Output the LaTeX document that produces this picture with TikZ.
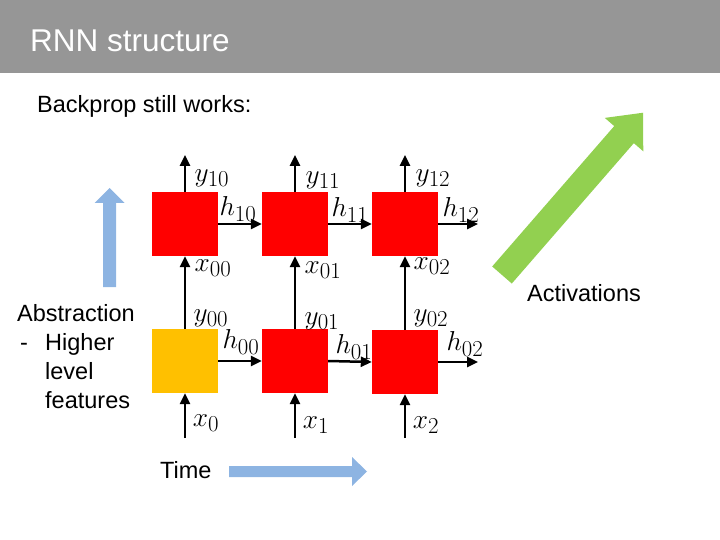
\documentclass[tikz,border=0pt]{standalone}
\usepackage{fontspec}
\setmainfont{Liberation Sans}
\usetikzlibrary{arrows.meta}

\definecolor{hdrgray}{RGB}{150,150,150}
\definecolor{cellred}{RGB}{255,0,0}
\definecolor{cellyellow}{RGB}{255,192,0}
\definecolor{arrowblue}{RGB}{141,180,226}
\definecolor{arrowgreen}{RGB}{146,208,80}

\begin{document}
\begin{tikzpicture}[x=1pt,y=-1pt,
    cell/.style={rectangle,fill=cellred,minimum width=66pt,minimum height=64pt,inner sep=0pt},
    flow/.style={line width=2.5pt,-{Triangle[length=11pt,width=10pt]}},
    lbl/.style={inner sep=0pt,scale=1.1,transform shape,font=\fontsize{24.88}{28}\selectfont},
    txt/.style={inner sep=0pt,anchor=base west,font=\fontsize{23.5}{28}\selectfont}]

    \useasboundingbox (0,0) rectangle (720,540);

    % Header
    \fill[hdrgray] (0,0) rectangle (720,73);
    \node[txt,text=white,font=\fontsize{31.5}{36}\selectfont] (title) at (30,52) {RNN structure};
    \node[txt] (intro) at (37,113) {Backprop still works:};

    % Define cells
    \node[cell] (c10) at (185,224) {};
    \node[cell] (c11) at (295,224) {};
    \node[cell] (c12) at (405,224) {};
    \node[cell,fill=cellyellow] (c00) at (185,361) {};
    \node[cell] (c01) at (295,361) {};
    \node[cell] (c02) at (405,362) {};

    % Free ends
    \coordinate (in0) at (185,438);
    \coordinate (in1) at (295,438);
    \coordinate (in2) at (405,438);
    \coordinate (out0) at (185,155);
    \coordinate (out1) at (295,155);
    \coordinate (out2) at (405,155);
    \coordinate (h1end) at (478,224);
    \coordinate (h0end) at (478,362);

    % Connectors
    \draw[flow] (in0) -- (c00.south);
    \draw[flow] (in1) -- (c01.south);
    \draw[flow] (in2) -- (c02.south);
    \draw[flow] (c00.north) -- (c10.south);
    \draw[flow] (c01.north) -- (c11.south);
    \draw[flow] (c02.north) -- (c12.south);
    \draw[flow] (c10.north) -- (out0);
    \draw[flow] (c11.north) -- (out1);
    \draw[flow] (c12.north) -- (out2);
    \draw[flow] (c10.east) -- (c11.west);
    \draw[flow] (c11.east) -- (c12.west);
    \draw[flow] (c12.east) -- (h1end);
    \draw[flow] (c00.east) -- (c01.west);
    \draw[flow] (c01.east) -- (c02.west);
    \draw[flow] (c02.east) -- (h0end);

    % Labels
    \node[lbl] (ly10) at (212,178) {$y_{10}$};
    \node[lbl] (lh10) at (238,209) {$h_{10}$};
    \node[lbl] (lx00) at (213,268) {$x_{00}$};
    \node[lbl] (ly11) at (323,180) {$y_{11}$};
    \node[lbl] (lh11) at (350,210) {$h_{11}$};
    \node[lbl] (lx01) at (323,270) {$x_{01}$};
    \node[lbl] (ly12) at (433,178) {$y_{12}$};
    \node[lbl] (lh12) at (461,210) {$h_{12}$};
    \node[lbl] (lx02) at (432,266) {$x_{02}$};
    \node[lbl] (ly00) at (211,318) {$y_{00}$};
    \node[lbl] (lh00) at (241,342) {$h_{00}$};
    \node[lbl] (ly01) at (322,321) {$y_{01}$};
    \node[lbl] (lh01) at (354,347) {$h_{01}$};
    \node[lbl] (ly02) at (431,318) {$y_{02}$};
    \node[lbl] (lh02) at (465,344) {$h_{02}$};
    \node[lbl] (lx0) at (206,423) {$x_{0}$};
    \node[lbl] (lx1) at (316,425) {$x_{1}$};
    \node[lbl] (lx2) at (426,425) {$x_{2}$};

    % Abstraction arrow and text
    \fill[arrowblue] (103,287) -- (103,203) -- (94.5,203) -- (109.5,188)
        -- (124.5,203) -- (116,203) -- (116,287) -- cycle;
    \node[txt] (abs1) at (17,321) {Abstraction};
    \node[txt] (abs2) at (20,350) {-};
    \node[txt] (abs3) at (45,350) {Higher};
    \node[txt] (abs4) at (45,379) {level};
    \node[txt] (abs5) at (45,408) {features};

    % Time arrow
    \node[txt] (time) at (160,478) {Time};
    \fill[arrowblue] (229,466) -- (352,466) -- (352,457) -- (367,471.5)
        -- (352,486) -- (352,477) -- (229,477) -- cycle;

    % Activations arrow
    \begin{scope}[shift={(502,275)},rotate=49]
        \fill[arrowgreen] (0,-13) -- (186,-13) -- (186,-25.5) -- (215,0)
            -- (186,25.5) -- (186,13) -- (0,13) -- cycle;
    \end{scope}
    \node[txt] (act) at (527,301) {Activations};

\end{tikzpicture}
\end{document}
